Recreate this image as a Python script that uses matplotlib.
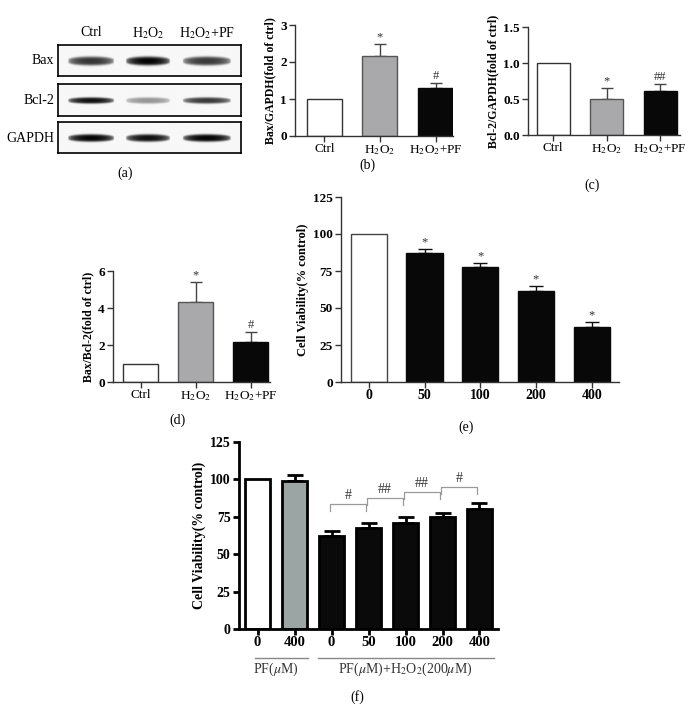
import numpy as np
import matplotlib.pyplot as plt

W, H = 698, 722
plt.rcParams['font.family'] = ['Liberation Serif', 'DejaVu Serif']
plt.rcParams['mathtext.fontset'] = 'stix'

# ---- data ----
groups = ['Ctrl', 'H$_2$O$_2$', 'H$_2$O$_2$+PF']
bax_gapdh = [1.0, 2.16, 1.30]
bax_gapdh_err = [0, 0.33, 0.13]
bax_gapdh_sig = ['', '*', '#']
bcl2_gapdh = [1.0, 0.50, 0.61]
bcl2_gapdh_err = [0, 0.15, 0.10]
bcl2_gapdh_sig = ['', '*', '##']
bax_bcl2 = [1.0, 4.30, 2.16]
bax_bcl2_err = [0, 1.10, 0.55]
bax_bcl2_sig = ['', '*', '#']

pf_dose = ['0', '50', '100', '200', '400']
viab_pf = [100, 87.2, 77.7, 61.5, 37.2]
viab_pf_err = [0, 2.6, 2.7, 3.3, 3.3]
viab_pf_sig = ['', '*', '*', '*', '*']

f_labels = ['0', '400', '0', '50', '100', '200', '400']
viab_h2o2 = [100, 98.7, 62.0, 67.5, 70.9, 74.8, 80.2]
viab_h2o2_err = [0, 4.0, 3.5, 3.3, 4.0, 2.6, 4.0]
f_pairs_sig = ['#', '##', '##', '#']
f_pairs_y = [83.5, 87.5, 91.5, 95.0]
f_groups = ['PF($\\mu$M)', 'PF($\\mu$M)+H$_2$O$_2$(200$\\mu$M)']

blot_rows = ['Bax', 'Bcl-2', 'GAPDH']
blot_intensity = [[0.80, 1.0, 0.78],
                  [0.95, 0.40, 0.78],
                  [1.0, 0.95, 1.0]]

fig = plt.figure(figsize=(W / 100, H / 100), dpi=100)


def px_axes(x0, y0, x1, y1):
    return fig.add_axes([x0 / W, 1 - y1 / H, (x1 - x0) / W, (y1 - y0) / H])


def label(x, y, s, **kw):
    fig.text(x / W, 1 - y / H, s, ha='center', va='center', **kw)


# ---- (a) western blot ----
lane_x = [91, 148, 207]
lane_hw = [23, 22, 24]
row_box = [(45, 76), (84, 116), (122, 153)]
row_thick = [4.5, 3.2, 3.8]
for r, (y0, y1) in enumerate(row_box):
    ax = px_axes(58, y0, 241, y1)
    xs = np.linspace(58, 241, 500)
    ys = np.linspace(y0, y1, 120)
    X, Y = np.meshgrid(xs, ys)
    cy = (y0 + y1) / 2 + 0.5
    img = np.zeros_like(X)
    for k in range(3):
        lens = np.sqrt(np.clip(1 - ((X - lane_x[k]) / lane_hw[k]) ** 2, 0, 1))
        t = row_thick[r] * (0.35 + 0.65 * lens)
        img += blot_intensity[r][k] * lens ** 0.6 * np.exp(-((Y - cy) / t) ** 4)
    ax.imshow(0.97 - 0.95 * np.clip(img, 0, 1), cmap='gray', vmin=0, vmax=1,
              extent=[58, 241, y1, y0], aspect='auto', interpolation='bilinear')
    ax.set_xticks([])
    ax.set_yticks([])
    for s in ax.spines.values():
        s.set_linewidth(1.2)
    fig.text(54 / W, 1 - cy / H, blot_rows[r], ha='right', va='center', fontsize=10)
for k in range(3):
    label(lane_x[k], 33, groups[k], fontsize=10)
label(125, 173, '(a)', fontsize=10)


# ---- bar panels ----
def bar_panel(ax, vals, errs, sigs, fills, edges, ylim, yticks, yticklabels, ylabel,
              xlim, width, xlabels, xbold=False, lw=1.0, spine='#333', ecol='#444',
              cap=4, fs=9.5, xfs=9.5, ylfs=8.5):
    x = np.arange(len(vals))
    ax.bar(x, vals, width=width, color=fills, edgecolor=edges, linewidth=lw, zorder=2)
    has = [i for i in x if errs[i] > 0]
    ax.errorbar(x[has], np.array(vals)[has],
                yerr=[np.zeros(len(has)), np.array(errs)[has]], fmt='none', ecolor=ecol,
                elinewidth=lw, capsize=cap, capthick=lw, zorder=1)
    for xi, v, e, s in zip(x, vals, errs, sigs):
        if s:
            ax.annotate(s, (xi, v + e), xytext=(0, 0.5), textcoords='offset points',
                        ha='center', va='bottom', fontsize=9, color='#333')
    ax.set_xlim(*xlim)
    ax.set_ylim(*ylim)
    ax.set_yticks(yticks)
    ax.set_yticklabels(yticklabels, fontweight='bold', fontsize=fs)
    ax.set_xticks(x)
    ax.set_xticklabels(xlabels, fontsize=xfs, fontweight='bold' if xbold else 'normal')
    ax.set_ylabel(ylabel, fontweight='bold', fontsize=ylfs, labelpad=3)
    for s in ['top', 'right']:
        ax.spines[s].set_visible(False)
    for s in ['left', 'bottom']:
        ax.spines[s].set_color(spine)
        ax.spines[s].set_linewidth(lw)
    ax.tick_params(length=4, width=lw, color=spine, pad=2)
    ax.tick_params(axis='x', pad=1)
    ax.set_facecolor('none')


white_gray_black = ['white', '#a9a9ac', '#080808']
edges3 = ['#333', '#555', '#080808']

ax_b = px_axes(295, 25, 453, 136)
bar_panel(ax_b, bax_gapdh, bax_gapdh_err, bax_gapdh_sig, white_gray_black, edges3,
          (0, 3), [0, 1, 2, 3], ['0', '1', '2', '3'], 'Bax/GAPDH(fold of ctrl)',
          (-0.53, 2.315), 0.63, groups)
label(367, 165, '(b)', fontsize=10)

ax_c = px_axes(528, 27, 680, 135)
bar_panel(ax_c, bcl2_gapdh, bcl2_gapdh_err, bcl2_gapdh_sig, white_gray_black, edges3,
          (0, 1.5), [0, 0.5, 1.0, 1.5], ['0.0', '0.5', '1.0', '1.5'],
          'Bcl-2/GAPDH(fold of ctrl)', (-0.47, 2.37), 0.62, groups)
label(592, 185, '(c)', fontsize=10)

ax_d = px_axes(113, 271, 270, 382)
bar_panel(ax_d, bax_bcl2, bax_bcl2_err, bax_bcl2_sig, white_gray_black, edges3,
          (0, 6), [0, 2, 4, 6], ['0', '2', '4', '6'], 'Bax/Bcl-2(fold of ctrl)',
          (-0.5, 2.35), 0.636, groups)
label(177, 420, '(d)', fontsize=10)

ax_e = px_axes(341, 197, 619, 382)
bar_panel(ax_e, viab_pf, viab_pf_err, viab_pf_sig, ['white'] + ['#080808'] * 4,
          ['#444'] + ['#080808'] * 4, (0, 125), [0, 25, 50, 75, 100, 125],
          ['0', '25', '50', '75', '100', '125'], 'Cell Viability(% control)',
          (-0.5, 4.49), 0.65, pf_dose, xbold=True, ecol='#111', cap=5, xfs=10,
          ylfs=9)
label(466, 427, '(e)', fontsize=10)

ax_f = px_axes(239, 442, 498, 629)
bar_panel(ax_f, viab_h2o2, viab_h2o2_err, [''] * 7,
          ['white', '#9ba6a4'] + ['#0a0a0a'] * 5, ['black'] * 7,
          (0, 125), [0, 25, 50, 75, 100, 125], ['0', '25', '50', '75', '100', '125'],
          'Cell Viability(% control)', (-0.5, 6.5), 0.69, f_labels, xbold=True,
          lw=2.0, spine='black', ecol='black', cap=6, fs=10, xfs=10.5, ylfs=10)
for k, (s, yb) in enumerate(zip(f_pairs_sig, f_pairs_y)):
    i = k + 2
    x0, x1 = i - 0.04, i + 0.94
    ax_f.plot([x0, x0, x1, x1], [yb - 4.5, yb, yb, yb - 4.5], color='#9a9a9a', lw=0.9,
              zorder=3)
    ax_f.text((x0 + x1) / 2, yb + 1.5, s, ha='center', va='bottom', fontsize=10,
              color='#333')
tr = ax_f.get_xaxis_transform()
ax_f.plot([-0.07, 1.37], [-0.155, -0.155], color='#888', lw=1, transform=tr, clip_on=False)
ax_f.plot([1.64, 6.38], [-0.155, -0.155], color='#888', lw=1, transform=tr, clip_on=False)
ax_f.text(0.5, -0.215, f_groups[0], ha='center', va='center', fontsize=10,
          color='#333', transform=tr)
ax_f.text(4.0, -0.215, f_groups[1], ha='center', va='center', fontsize=10,
          color='#333', transform=tr)
label(357, 697, '(f)', fontsize=10)

fig.savefig('out.png', dpi=100)
